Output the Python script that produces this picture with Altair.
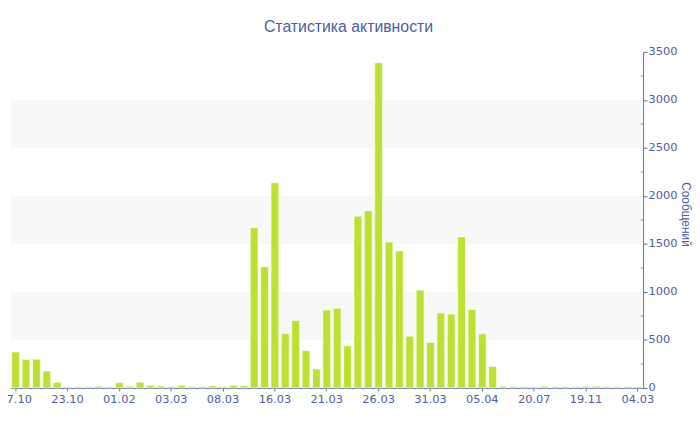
import json
import altair as alt
import pandas as pd

# ---- data ----
dates = [
    "17.10", "18.10", "19.10", "20.10", "21.10", "23.10", "24.10", "26.10", "29.10", "05.11",
    "01.02", "07.02", "15.02", "21.02", "27.02", "03.03", "04.03", "05.03", "06.03", "07.03",
    "08.03", "09.03", "12.03", "14.03", "15.03", "16.03", "17.03", "18.03", "19.03", "20.03",
    "21.03", "22.03", "23.03", "24.03", "25.03", "26.03", "27.03", "28.03", "29.03", "30.03",
    "31.03", "01.04", "02.04", "03.04", "04.04", "05.04", "06.04", "07.04", "12.04", "03.06",
    "20.07", "15.08", "02.09", "10.10", "25.10", "19.11", "15.12", "20.01", "10.02", "25.02",
    "04.03",
]
messages = [
    374, 295, 299, 175, 59, 12, 12, 12, 18, 12,
    55, 17, 60, 27, 20, 15, 27, 14, 14, 22,
    14, 27, 22, 1668, 1263, 2138, 566, 703, 390, 197,
    812, 830, 439, 1788, 1846, 3387, 1520, 1427, 539, 1019,
    473, 782, 769, 1572, 817, 563, 223, 18, 15, 15,
    12, 18, 15, 15, 12, 17, 18, 15, 12, 15,
    14,
]
band_lo = [500, 1500, 2500]
band_hi = [1000, 2000, 3000]
y_ticks = [0, 500, 1000, 1500, 2000, 2500, 3000, 3500]
y_minor = [250, 750, 1250, 1750, 2250, 2750, 3250]

df = pd.DataFrame({"i": list(range(len(messages))), "value": messages})
bands = pd.DataFrame({"lo": band_lo, "hi": band_hi})
minor = pd.DataFrame({"v": y_minor})

FONT = "DejaVu Sans"
TFONT = "Liberation Sans"
TEXT = "#4a5ea4"
LINE = "#5b6ea8"

yscale = alt.Scale(domain=[0, 3500], nice=False)
yaxis = alt.Axis(
    orient="right", values=y_ticks, format="d", title="Сообщений", grid=False,
    domainColor=LINE, tickColor=LINE, tickSize=4, labelPadding=1,
    labelColor=TEXT, labelFont=FONT, labelFontSize=11.5,
    titleColor=TEXT, titleFont=TFONT, titleFontSize=12, titleFontWeight="normal",
    titlePadding=2, titleY=164,
)

label_expr = json.dumps(dates) + "[datum.value]"

band_layer = alt.Chart(bands).mark_rect(color="#f8f8f8").encode(
    y=alt.Y("lo:Q", scale=yscale, axis=yaxis),
    y2="hi:Q",
)

minor_layer = alt.Chart(minor).mark_tick(
    color=LINE, size=3, thickness=1, orient="horizontal"
).encode(
    y=alt.Y("v:Q", scale=yscale, axis=yaxis),
    x=alt.value(639),
)

bar_layer = alt.Chart(df).mark_bar(
    color="#bde133", stroke="#ffffff", strokeWidth=1, strokeOpacity=0.6
).encode(
    x=alt.X(
        "i:O",
        scale=alt.Scale(paddingInner=0.25, paddingOuter=0.125),
        axis=alt.Axis(
            values=list(range(0, len(messages), 5)), labelExpr=label_expr,
            title=None, labelAngle=0, domainColor=LINE, tickColor=LINE,
            tickSize=3, labelPadding=3, labelColor=TEXT, labelFont=FONT,
            labelFontSize=11.5, grid=False,
        ),
    ),
    y=alt.Y("value:Q", scale=yscale, axis=yaxis),
)

chart = alt.layer(band_layer, bar_layer, minor_layer).properties(
    width=640,
    height=340,
    autosize="none",
    padding={"left": 2.5, "top": 42, "right": 49.5, "bottom": 26},
    title=alt.Title(
        "Статистика активности", font=TFONT, fontSize=16, fontWeight="normal",
        color=TEXT, anchor="middle", dx=22, offset=11,
    ),
).configure_view(stroke=None)

chart.save("out.html", embed_options={"renderer": "svg", "actions": False})
